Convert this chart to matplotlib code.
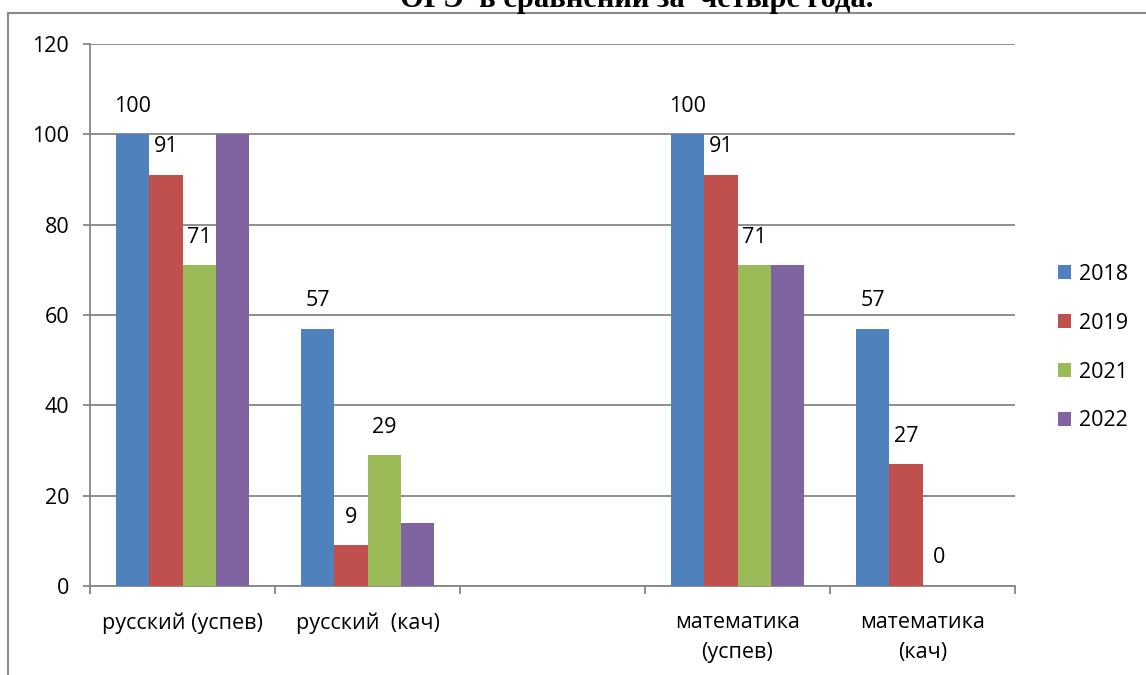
import numpy as np
import matplotlib
matplotlib.use("Agg")
import matplotlib.pyplot as plt
from matplotlib.lines import Line2D

# ── data ─────────────────────────────────────────────────────────────────────
categories = ["русский (успев)", "русский  (кач)", "", "математика\n(успев)", "математика\n(кач)"]
years = ["2018", "2019", "2021", "2022"]
v2018 = [100, 57, np.nan, 100, 57]
v2019 = [91, 9, np.nan, 91, 27]
v2021 = [71, 29, np.nan, 71, 0]
v2022 = [100, 14, np.nan, 71, np.nan]
show_labels = [True, True, True, False]   # 2022 bars carry no value labels
colors = ["#4F81BD", "#C0504D", "#9BBB59", "#8064A2"]
title = "ОГЭ  в сравнении за  четыре года."

plt.rcParams["font.family"] = ["Open Sans", "DejaVu Sans"]
fs = 15.5
fig = plt.figure(figsize=(11.46, 6.75), dpi=100)
ax = fig.add_axes([90 / 1146, 1 - 586 / 675, (1015 - 90) / 1146, (586 - 44) / 675])

x = np.arange(len(categories))
w = 0.18
series = [v2018, v2019, v2021, v2022]
for i, (vals, yr, c, lab) in enumerate(zip(series, years, colors, show_labels)):
    xs = x + (i - 1.5) * w
    ax.bar(xs, vals, w, color=c, label=yr, zorder=3)
    if lab:
        for xi, v in zip(xs, vals):
            if not np.isnan(v):
                ax.text(xi, v + 6.2, f"{v:g}", ha="center", va="center", fontsize=fs)

ax.set_xlim(-0.5, len(categories) - 0.5)
ax.set_ylim(0, 120)
ax.set_yticks(range(0, 121, 20))
ax.yaxis.grid(True, color="#868686", lw=1.3, zorder=0)
ax.set_xticks(x)
ax.set_xticklabels(categories, fontsize=fs, linespacing=1.55)
ax.set_xticks(np.arange(-0.5, len(categories)), minor=True)
ax.tick_params(axis="x", which="major", length=0, pad=19)
ax.tick_params(axis="x", which="minor", length=6, color="#868686", width=1.3)
ax.tick_params(axis="y", length=5, color="#868686", width=1.3, labelsize=fs, pad=10)
for s in ["top", "right"]:
    ax.spines[s].set_visible(False)
for s in ["left", "bottom"]:
    ax.spines[s].set_color("#868686")
    ax.spines[s].set_linewidth(1.3)

ax.legend(loc="center left", bbox_to_anchor=(1.026, 0.44), frameon=False, fontsize=fs,
          handlelength=0.6, handleheight=0.6, labelspacing=1.3, handletextpad=0.35)

# outer chart frame (partly clipped in the reference)
fig.add_artist(Line2D([8 / 1146, 8 / 1146], [0, 1 - 13 / 675], color="#8a8a8a", lw=1.5))
fig.add_artist(Line2D([8 / 1146, 1], [1 - 13 / 675, 1 - 13 / 675], color="#8a8a8a", lw=1.5))
fig.text(637 / 1146, 1 - 7 / 675, title, ha="center", va="baseline", fontsize=22,
         fontweight="bold", family=["Liberation Serif", "DejaVu Serif"])

fig.savefig("out.png", dpi=100)
